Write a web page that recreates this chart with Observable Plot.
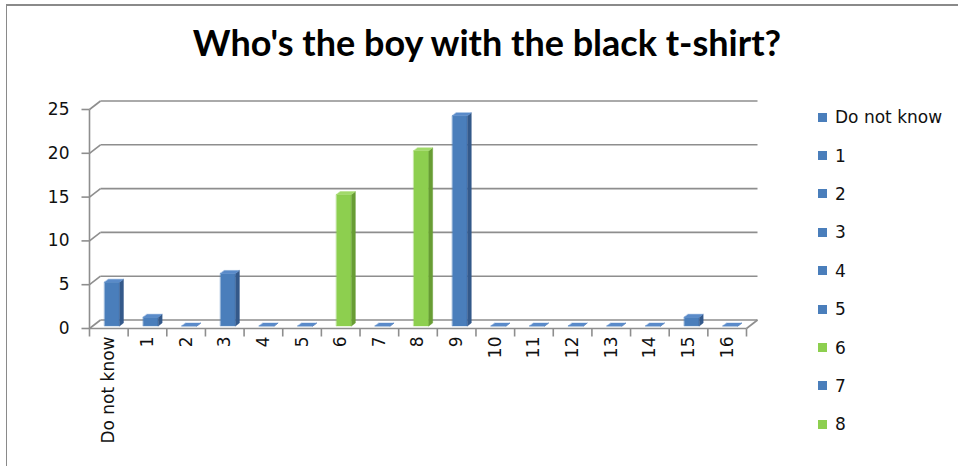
<!DOCTYPE html>
<html><head><meta charset="utf-8">
<script src="https://cdn.jsdelivr.net/npm/d3@7"></script>
<script src="https://cdn.jsdelivr.net/npm/@observablehq/plot@0.6"></script>
<style>
html,body{margin:0;padding:0;background:#fff;}
#wrap{position:relative;width:958px;height:466px;overflow:hidden;background:#fff;}
#frame{position:absolute;left:6px;top:4px;width:990px;height:520px;border-left:1.5px solid #8a8a8a;border-top:2px solid #8a8a8a;box-sizing:border-box;}
#title{position:absolute;left:8px;width:958px;top:21px;text-align:center;font:bold 36px Lato, sans-serif;color:#000;line-height:42px;white-space:nowrap;}
#chart{position:absolute;left:0;top:0;}
#legend{position:absolute;left:818px;top:98px;}
#legend [class*="-swatches"]{font:17px "DejaVu Sans", sans-serif;color:#111;margin:0;}
#legend [class$="-swatch"]{height:38.4px;padding:0 !important;display:flex;align-items:center;}
#legend [class$="-swatch"] > svg{margin-right:8px;}
</style>
</head><body>
<div id="wrap"><div id="frame"></div><div id="chart"></div><div id="title"></div><div id="legend"></div></div>
<script>
const titleText = "Who's the boy with the black t-shirt?";
const categories = ["Do not know","1","2","3","4","5","6","7","8","9","10","11","12","13","14","15","16"];
const counts = [5,1,0,6,0,0,15,0,20,24,0,0,0,0,0,1,0];
const greenCategories = ["6","8"];
const legendItems = ["Do not know","1","2","3","4","5","6","7","8"];
const yTicks = [0,5,10,15,20,25];
const palette = {
  blue: {front:"#4a7ebb", side:"#34598a", top:"#5a8bc9"},
  green: {front:"#8dcf4f", side:"#689d34", top:"#a1da6a"}
};
const gridColor = "#8e8e8e";

const W = 958, H = 466, mL = 89, mR = 212, mT = 109, mB = 138;
const n = categories.length;
const yMax = 25;
const kx = (W - mL - mR) / n, ky = (H - mT - mB) / yMax;
const depthPx = [11, 8.5];
const DX = depthPx[0] / kx, DY = depthPx[1] / ky;
const P = (x, y, f) => ({x: x + f * DX, y: y + f * DY});

const barHalf = 0.195, f0 = 0.3, f1 = 0.65;
const faces = [];
categories.forEach((c, i) => {
  const v = counts[i];
  const col = greenCategories.includes(c) ? palette.green : palette.blue;
  const a = i + 0.5 - barHalf, b = i + 0.5 + barHalf;
  const add = (name, pts, fill) => pts.forEach(p => faces.push({...p, id: c + "-" + name, fill}));
  add("front", [P(a,0,f0), P(b,0,f0), P(b,v,f0), P(a,v,f0)], col.front);
  add("side", [P(b,0,f0), P(b,0,f1), P(b,v,f1), P(b,v,f0)], col.side);
  add("top", [P(a,v,f0), P(b,v,f0), P(b,v,f1), P(a,v,f1)], col.top);
});

document.getElementById("title").textContent = titleText;

const chart = Plot.plot({
  width: W, height: H,
  marginLeft: mL, marginRight: mR, marginTop: mT, marginBottom: mB,
  style: {fontFamily: "DejaVu Sans, sans-serif", fontSize: "17px", color: "#111", background: "transparent", overflow: "visible"},
  color: {type: "identity"},
  x: {domain: [0, n], ticks: d3.range(n).map(i => i + 0.5), tickFormat: d => categories[Math.floor(d)], tickRotate: -90, tickSize: 0, tickPadding: 8, label: null},
  y: {domain: [0, yMax], ticks: yTicks, tickSize: 0, tickPadding: 20, label: null},
  marks: [
    Plot.link(yTicks, {x1: () => DX, y1: t => t + DY, x2: () => n + DX, y2: t => t + DY, stroke: gridColor, strokeWidth: 1.6}),
    Plot.link(yTicks, {x1: () => 0, y1: t => t, x2: () => DX, y2: t => t + DY, stroke: gridColor, strokeWidth: 1.6}),
    Plot.link([yMax], {x1: () => 0, y1: () => 0, x2: () => 0, y2: t => t, stroke: gridColor, strokeWidth: 1.6}),
    Plot.link([n], {x1: () => 0, y1: () => 0, x2: d => d, y2: () => 0, stroke: gridColor, strokeWidth: 1.6}),
    Plot.link([n], {x1: d => d, y1: () => 0, x2: d => d + DX, y2: () => DY, stroke: gridColor, strokeWidth: 1.6}),
    Plot.link(yTicks, {x1: () => -8 / kx, y1: t => t, x2: () => 0, y2: t => t, stroke: gridColor, strokeWidth: 1.6}),
    Plot.link(d3.range(n + 1), {x1: i => i, y1: () => 0, x2: i => i, y2: () => -8 / ky, stroke: gridColor, strokeWidth: 1.6}),
    Plot.line(faces, {x: "x", y: "y", z: "id", fill: "fill", stroke: "fill", strokeWidth: 0.4, curve: "linear-closed"})
  ]
});
document.getElementById("chart").appendChild(chart);

const legend = Plot.legend({
  color: {type: "ordinal", domain: legendItems, range: legendItems.map(c => greenCategories.includes(c) ? palette.green.front : palette.blue.front)},
  legend: "swatches", columns: 1, swatchWidth: 9, swatchHeight: 9
});
document.getElementById("legend").appendChild(legend);
</script>
</body></html>
